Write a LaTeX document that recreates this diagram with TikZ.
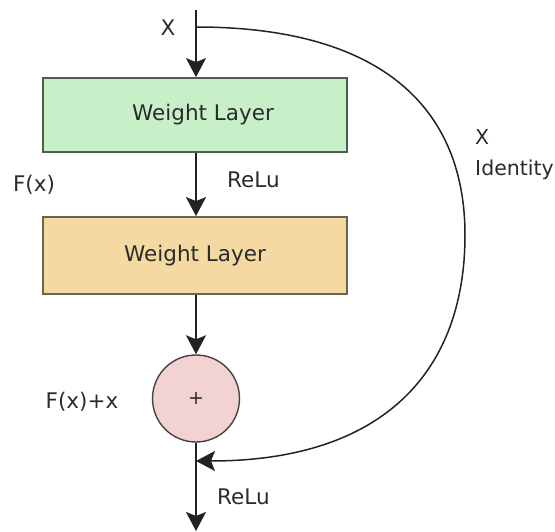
\documentclass[tikz,border=0pt]{standalone}
\usepackage{fontspec}
\setmainfont{DejaVu Sans}
\usetikzlibrary{arrows.meta}

\definecolor{linecol}{HTML}{222222}
\definecolor{txtcol}{HTML}{2B2B2B}
\definecolor{greenfill}{HTML}{C8F0C8}
\definecolor{greenedge}{HTML}{4E5E4E}
\definecolor{sandfill}{HTML}{F4DAA2}
\definecolor{sandedge}{HTML}{6E6252}
\definecolor{pinkfill}{HTML}{F2D2D2}
\definecolor{pinkedge}{HTML}{4A4040}

\tikzset{
  layerbox/.style={draw, line width=1.8pt, minimum width=304pt, inner sep=0pt,
    font=\fontsize{21.5}{25}\selectfont, text=txtcol},
  sumnode/.style={circle, draw=pinkedge, fill=pinkfill, line width=1.4pt,
    minimum size=87pt, inner sep=0pt, font=\fontsize{19}{22}\selectfont, text=txtcol},
  lbl/.style={font=\fontsize{21.5}{25}\selectfont, text=txtcol, inner sep=0pt},
  sidelbl/.style={lbl, anchor=west, font=\fontsize{20.5}{24}\selectfont},
  flow/.style={draw=linecol, line width=1.5pt,
    -{Stealth[length=19pt, width=20pt, inset=4pt]}},
}

\begin{document}
\begin{tikzpicture}[x=1pt, y=-1pt]
\useasboundingbox (0,0) rectangle (555,532);

% layers and the sum
\node[layerbox, draw=greenedge, fill=greenfill, minimum height=74pt]
  (w1) at (195,115) {\hspace*{16pt}Weight Layer};
\node[layerbox, draw=sandedge, fill=sandfill, minimum height=77pt]
  (w2) at (195,255.5) {Weight Layer};
\node[sumnode] (sum) at (196,398.5) {+};

% free ends of the main path
\coordinate (in)   at (196,10);
\coordinate (fork) at (196,27);
\coordinate (join) at (196,461);
\coordinate (out)  at (196,531);
\coordinate (far)  at (465,235);

% main path
\draw[line width=1.5pt, draw=linecol] (in) -- (fork);
\draw[flow] (fork) -- (w1.north -| fork);
\draw[flow] (w1.south -| fork) -- (w2.north -| fork);
\draw[flow] (w2.south -| fork) -- (sum.north);
\draw[line width=1.5pt, draw=linecol] (sum.south) -- (join);
\draw[flow] (join) -- (out);

% identity shortcut
\draw[flow] (fork) .. controls (384,27) and (465,110) .. (far)
                   .. controls (465,371) and (384,461) .. (join);

% labels
\node[lbl] (lx)   at (168,28) {X};
\node[lbl] (lfx)  at (34,185) {F(x)};
\node[lbl, anchor=west] (lr1) at (227,180) {ReLu};
\node[sidelbl] (lid1) at (475,137) {X};
\node[sidelbl] (lid2) at (475,170) {Identity};
\node[lbl] (lsum) at (82,402) {F(x)+x};
\node[lbl, anchor=west] (lr2) at (217,497) {ReLu};
\end{tikzpicture}
\end{document}
